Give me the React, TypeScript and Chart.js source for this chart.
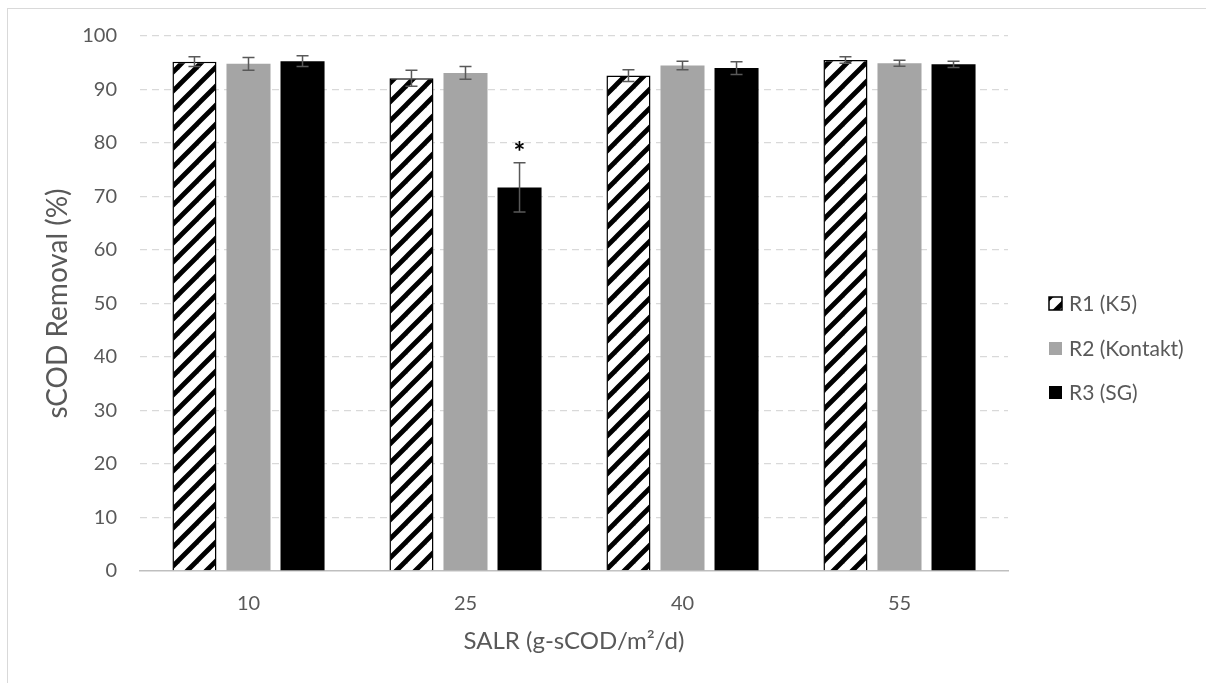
import React, { useEffect, useRef } from "react";
import { Chart, registerables } from "chart.js";

Chart.register(...registerables);

// Surface area loading rates (g-sCOD/m²/d)
const categories = ["10", "25", "40", "55"];
const seriesNames = ["R1 (K5)", "R2 (Kontakt)", "R3 (SG)"];

// Mean sCOD removal (%) per reactor
const r1Values = [95.2, 92.1, 92.6, 95.5];
const r2Values = [94.8, 93.1, 94.5, 94.9];
const r3Values = [95.3, 71.7, 94.0, 94.7];

// Standard deviations
const r1Errors = [0.9, 1.5, 1.1, 0.6];
const r2Errors = [1.2, 1.2, 0.8, 0.55];
const r3Errors = [1.0, 4.6, 1.2, 0.6];

// Significance markers (asterisk above the error bar)
const r3Significant = [false, true, false, false];

const yMin = 0;
const yMax = 100;
const yStep = 10;

const xTitle = "SALR (g-sCOD/m²/d)";
const yTitle = "sCOD Removal (%)";

const FONT = "Lato, 'Open Sans', sans-serif";
const TEXT = "#595959";
const GRAY = "#a5a5a5";

function makeHatch(ctx: CanvasRenderingContext2D): CanvasPattern | string {
  const p = 19;
  const c = document.createElement("canvas");
  c.width = p;
  c.height = p;
  const g = c.getContext("2d");
  if (!g) return "#000";
  g.fillStyle = "#fff";
  g.fillRect(0, 0, p, p);
  g.strokeStyle = "#000";
  g.lineWidth = 4.8;
  g.lineCap = "square";
  const lines = [
    [-p, p, p, -p],
    [0, p, p, 0],
    [0, 2 * p, 2 * p, 0],
  ];
  for (const [x1, y1, x2, y2] of lines) {
    g.beginPath();
    g.moveTo(x1, y1);
    g.lineTo(x2, y2);
    g.stroke();
  }
  return ctx.createPattern(c, "repeat") || "#000";
}

export default function App() {
  const ref = useRef<HTMLCanvasElement | null>(null);

  useEffect(() => {
    const canvas = ref.current;
    if (!canvas) return;
    const ctx = canvas.getContext("2d");
    if (!ctx) return;
    const hatch = makeHatch(ctx);

    const errors = [r1Errors, r2Errors, r3Errors];
    const significance = [null, null, r3Significant];

    const errorBarPlugin = {
      id: "errorBars",
      afterDatasetsDraw(chart: any) {
        const c = chart.ctx;
        const y = chart.scales.y;
        c.save();
        c.strokeStyle = TEXT;
        c.lineWidth = 1.5;
        chart.data.datasets.forEach((ds: any, i: number) => {
          const meta = chart.getDatasetMeta(i);
          meta.data.forEach((bar: any, j: number) => {
            const v = ds.data[j];
            const e = errors[i][j];
            const top = y.getPixelForValue(v + e);
            const bot = y.getPixelForValue(v - e);
            const x = bar.x;
            c.beginPath();
            c.moveTo(x, top);
            c.lineTo(x, bot);
            c.moveTo(x - 6, top);
            c.lineTo(x + 6, top);
            c.moveTo(x - 6, bot);
            c.lineTo(x + 6, bot);
            c.stroke();
            const sig = significance[i];
            if (sig && sig[j]) {
              c.fillStyle = "#000";
              c.font = `bold 28px ${FONT}`;
              c.textAlign = "center";
              c.textBaseline = "alphabetic";
              c.fillText("*", x, top - 1);
            }
          });
        });
        c.restore();
      },
    };

    const decorPlugin = {
      id: "decor",
      afterDraw(chart: any) {
        const c = chart.ctx;
        const area = chart.chartArea;
        c.save();
        // axis titles
        c.fillStyle = TEXT;
        c.textAlign = "center";
        c.textBaseline = "middle";
        c.font = `24px ${FONT}`;
        c.fillText(xTitle, (area.left + area.right) / 2, area.bottom + 70);
        c.font = `28px ${FONT}`;
        c.translate(50, (area.top + area.bottom) / 2);
        c.rotate(-Math.PI / 2);
        c.fillText(yTitle, 0, 0);
        c.restore();

        // legend
        c.save();
        const fills = [hatch, GRAY, "#000"];
        const offsets = [267, 312, 356];
        const bx = area.right + 41;
        c.font = `21px ${FONT}`;
        c.textAlign = "left";
        c.textBaseline = "middle";
        seriesNames.forEach((name, i) => {
          const cy = area.top + offsets[i];
          c.fillStyle = fills[i];
          c.fillRect(bx, cy - 6, 13, 13);
          if (i === 0) {
            c.strokeStyle = "#000";
            c.lineWidth = 1.5;
            c.strokeRect(bx, cy - 6, 13, 13);
          }
          c.fillStyle = TEXT;
          c.fillText(name, bx + 20, cy + 1);
        });
        c.restore();
      },
    };

    const chart = new Chart(ctx, {
      type: "bar",
      data: {
        labels: categories,
        datasets: [
          {
            label: seriesNames[0],
            data: r1Values,
            backgroundColor: hatch as any,
            borderColor: "#000",
            borderWidth: 1.5,
          },
          {
            label: seriesNames[1],
            data: r2Values,
            backgroundColor: GRAY,
            borderWidth: 0,
          },
          {
            label: seriesNames[2],
            data: r3Values,
            backgroundColor: "#000",
            borderWidth: 0,
          },
        ],
      },
      options: {
        responsive: false,
        animation: false,
        layout: { padding: { left: 0, top: 27, right: 198, bottom: 0 } },
        datasets: {
          bar: { categoryPercentage: 0.747, barPercentage: 0.815 },
        },
        plugins: {
          legend: { display: false },
          tooltip: { enabled: false },
          title: { display: false },
        },
        scales: {
          x: {
            grid: { display: false, drawTicks: false },
            border: { display: true, color: "#bfbfbf", width: 1.5 },
            ticks: {
              color: TEXT,
              font: { family: FONT, size: 20 },
              padding: 21,
            },
            afterFit(scale: any) {
              scale.height = 112;
              scale.paddingLeft = 0;
              scale.paddingRight = 0;
            },
          },
          y: {
            min: yMin,
            max: yMax,
            ticks: {
              stepSize: yStep,
              color: TEXT,
              font: { family: FONT, size: 20 },
              padding: 23,
            },
            grid: {
              drawTicks: false,
              color: (c: any) => (c.tick && c.tick.value === 0 ? "rgba(0,0,0,0)" : "#d9d9d9"),
              lineWidth: 1.3,
            },
            border: { display: false, dash: [7, 5] },
            afterFit(scale: any) {
              scale.width = 132;
              scale.paddingTop = 0;
              scale.paddingBottom = 0;
            },
          },
        },
      },
      plugins: [errorBarPlugin, decorPlugin],
    });

    return () => chart.destroy();
  }, []);

  return (
    <div
      style={{
        position: "fixed",
        left: 7,
        top: 8,
        width: 1199,
        height: 675,
        borderLeft: "1px solid #d9d9d9",
        borderTop: "1px solid #d9d9d9",
        boxSizing: "border-box",
        background: "#fff",
        overflow: "hidden",
      }}
    >
      <canvas ref={ref} width={1198} height={674} style={{ display: "block" }} />
    </div>
  );
}
